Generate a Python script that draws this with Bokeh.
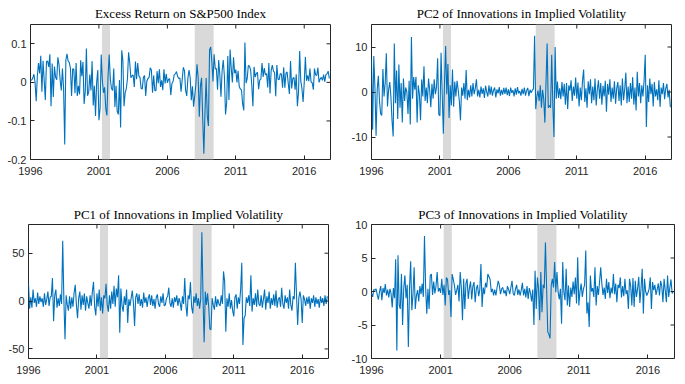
import math
from bokeh.plotting import figure
from bokeh.layouts import column, row
from bokeh.models import (Range1d, FixedTicker, BoxAnnotation,
                          PrintfTickFormatter, ColumnDataSource)
from bokeh.embed import file_html
from bokeh.resources import INLINE

# ---------------- data ----------------
titles = ["Excess Return on S&P500 Index",
          "PC2 of Innovations in Implied Volatility",
          "PC1 of Innovations in Implied Volatility",
          "PC3 of Innovations in Implied Volatility"]
year_ticks = [1996, 2001, 2006, 2011, 2016]
x_start, x_end = 1996, 2017.92
rec_start = [2001.22, 2008.0]
rec_end = [2001.81, 2009.38]

# monthly log excess return, Feb 1996 .. Dec 2017 (one row per calendar year)
excess_return = [
    0.005, 0.006, 0.011, 0.021, 0.000, -0.049, 0.016, 0.050, 0.023, 0.069, -0.024,
    0.056, 0.004, -0.046, 0.054, 0.055, 0.040, 0.073, -0.062, 0.049, -0.038, 0.041, 0.013,
    0.007, 0.065, 0.046, 0.006, -0.021, 0.036, -0.015, -0.161, 0.058, 0.074, 0.055, 0.052,
    0.037, -0.035, 0.035, 0.034, -0.028, 0.050, -0.035, -0.009, -0.031, 0.057, 0.016, 0.053,
    -0.056, -0.024, 0.088, -0.035, -0.026, 0.020, -0.021, 0.055, -0.060, -0.009, -0.087, 0.000,
    0.032, -0.098, -0.068, 0.072, 0.004, -0.027, -0.013, -0.068, -0.086, 0.017, 0.072, 0.008,
    -0.016, -0.021, 0.036, -0.064, -0.009, -0.075, -0.083, 0.006, -0.117, 0.083, 0.056, -0.062,
    -0.027, -0.016, 0.009, 0.078, 0.051, 0.012, 0.017, 0.019, -0.012, 0.054, 0.008, 0.050,
    0.017, 0.013, -0.016, -0.017, 0.013, 0.018, -0.035, 0.003, 0.010, 0.013, 0.038, 0.032,
    -0.027, 0.018, -0.021, -0.022, 0.029, -0.002, 0.034, -0.012, 0.005, -0.020, 0.034, -0.003,
    0.022, -0.001, 0.008, 0.009, -0.033, -0.003, 0.002, 0.020, 0.022, 0.028, 0.015, 0.010,
    0.011, -0.024, 0.007, 0.039, 0.030, -0.021, -0.035, 0.011, 0.032, 0.012, -0.046, -0.010,
    -0.063, -0.035, -0.005, 0.047, 0.012, -0.089, -0.009, 0.012, -0.094, -0.185, -0.075, 0.011,
    -0.088, -0.113, 0.084, 0.092, 0.054, 0.002, 0.073, 0.035, 0.036, -0.019, 0.058, 0.019,
    -0.037, 0.030, 0.058, 0.016, -0.083, -0.053, 0.068, -0.046, 0.085, 0.037, 0.000, 0.065,
    0.024, 0.033, 0.000, 0.030, -0.011, -0.017, -0.020, -0.056, -0.073, 0.103, -0.002, 0.010,
    0.044, 0.042, 0.032, -0.006, -0.062, 0.040, 0.014, 0.023, 0.026, -0.018, 0.006, 0.009,
    0.050, 0.014, 0.037, 0.019, 0.023, -0.013, 0.050, -0.029, 0.030, 0.045, 0.030, 0.025,
    -0.036, 0.045, 0.008, 0.007, 0.023, 0.021, -0.014, 0.039, -0.014, 0.024, 0.027, -0.003,
    -0.030, 0.055, -0.016, 0.010, 0.013, -0.019, 0.021, -0.062, -0.025, 0.081, 0.003, -0.016,
    -0.051, -0.001, 0.066, 0.004, 0.018, 0.003, 0.036, 0.001, -0.001, -0.019, 0.036, 0.019,
    0.018, 0.038, 0.000, 0.009, 0.013, 0.005, 0.020, 0.002, 0.020, 0.022, 0.029, 0.010,
]

pc2 = [
    7.1, -8.4, 8.0, 1.0, -9.7, 0.5, 3.6, -2.0, -4.8, -5.2, 5.1, -1.0,
    2.0, 8.6, -3.2, 0.5, 2.2, -1.0, -6.4, -9.9, 10.8, -2.5, 4.8, -6.0,
    6.1, -3.5, 2.0, -6.8, 3.0, -2.0, 1.0, 0.0, -4.9, 2.5, -7.2, 12.2,
    -1.5, 3.3, 0.5, 3.4, -6.8, 1.5, -0.5, -6.3, 2.8, -1.0, 5.7, -2.0,
    1.0, -2.5, 3.0, 0.5, -3.4, 1.8, -1.5, 2.8, -0.5, 1.0, 7.5, -5.0,
    -5.3, 8.7, -0.5, -9.3, 2.0, 10.2, -0.5, 6.2, -5.8, 1.5, -3.0, 5.0,
    -3.3, 2.3, -1.0, 2.5, 0.5, -2.0, -6.3, 1.0, -0.8, 2.0, -1.5, 4.9,
    -1.8, 0.5, -1.2, 1.5, -1.0, 2.0, -0.5, 0.8, 2.8, -1.0, 0.5, -1.2,
    1.2, -0.4, 0.8, -1.3, 1.4, 0.0, -1.0, 1.5, -0.6, 1.2, -0.8, 0.4,
    1.0, -1.2, 0.6, -0.3, 1.1, -0.8, 0.5, -0.6, 0.9, -0.4, 1.0, -0.7,
    0.6, -0.9, 1.0, -0.2, 0.4, -1.0, 0.8, -0.6, 1.1, -0.3, 0.2, -0.8,
    0.7, -0.5, 1.0, -0.8, 0.3, 0.9, -0.9, 0.5, -0.2, 0.4, 0.7, 12.5,
    -3.8, -1.0, 0.3, -2.0, 1.5, -3.5, 0.5, -1.5, -6.8, 2.0, 10.8, -3.5,
    -3.0, -3.5, 8.3, -3.0, -10.0, 10.0, -1.5, 2.3, -1.3, 0.8, -1.6, 2.2,
    -1.0, 1.8, -2.8, 2.0, -3.8, 1.5, 0.3, 2.6, -2.0, 1.2, -0.8, 3.2,
    -1.5, 2.1, -3.2, 1.0, -1.8, 2.5, 5.0, -2.2, 0.8, -3.5, 2.4, -0.5,
    2.8, -2.5, 1.2, -1.8, 3.0, -3.0, 0.6, 2.6, -1.5, 2.0, -2.8, 1.4,
    -1.0, 2.5, -4.4, 1.8, -0.6, 2.8, -2.2, 1.0, -1.5, 2.4, -2.6, 0.8,
    2.2, -2.0, 1.5, -3.0, 3.0, -1.8, 0.6, 4.3, -2.5, 1.2, -2.2, 2.0,
    -1.5, 3.3, -2.8, 1.0, -4.1, 4.5, -1.0, 2.0, -2.5, 1.5, -1.0, 2.5,
    8.3, -7.8, 1.5, -2.2, 3.0, -0.5, 1.8, -3.2, 2.2, -1.0, 0.6, -1.8,
    2.6, -3.3, 1.0, -0.5, 2.0, -1.6, 0.8, 1.8, -1.2, 0.5, -3.4,
]

pc1 = [
    18, -8, 4, -7, 12, -2, 3, -6, 9, -3, 5, -1,
    3, -6, 8, -4, 2, 10, -5, 4, 5, 24, -21, 6,
    12, -7, 3, -5, 7, -3, 63, 2, -40, 6, -4, -10,
    5, -8, 4, -6, 9, 17, -4, -18, 3, 10, -9, 6,
    -4, 8, -10, 5, -2, -8, 6, -5, 10, 20, -6, -15,
    8, -6, 12, -10, 4, -13, 6, 3, 18, -4, -11, 6,
    -8, 10, -3, 16, -6, 13, 4, 27, -33, 13, -5, -11,
    5, -4, 12, -23, 2, -5, 3, 11, -2, -26, 4, 8,
    -3, 7, -5, 2, -7, 9, -2, 4, -6, 3, 7, -4,
    6, -5, 2, -8, 4, 7, -3, -6, 5, -2, 8, -5,
    -4, 3, 5, 14, -2, -6, 3, -7, 4, -1, 6, -5,
    3, -2, -10, 5, -3, 24, -4, -16, 6, 2, 20, -6,
    -13, 5, -2, 8, -5, 3, -8, 2, 72, 4, -43, 10,
    -4, 8, -6, -29, -30, 3, -4, -9, 5, -6, 2, -3,
    -5, 6, -3, 31, 20, -32, 3, -6, 8, -8, 1, -10,
    -16, 4, 7, -8, 4, -3, 12, 40, -46, -18, -15, 4,
    -2, 6, -5, 27, -11, 3, -4, 8, -6, 12, -3, -5,
    6, -7, 2, 12, -9, 5, -2, 10, -8, 3, -4, 7,
    -5, 11, -7, 2, 4, -6, 14, -3, -8, 6, -2, 4,
    -8, 12, -4, -10, 5, 2, 40, 6, -25, 3, 10, 2,
    -23, 6, 2, -5, 4, -3, 5, -8, 3, -2, 6, -6,
    4, -3, 2, -7, 5, -2, 3, -5, 6, -3, 5,
]

pc3 = [
    -0.3, -0.8, 0.3, 0.2, 0.4, -0.5, -1.2, 0.0, 0.8, -1.3, 0.5, -0.2,
    1.1, -0.6, 0.3, -0.9, 0.4, -0.3, -2.4, 0.5, -1.0, 4.8, -8.8, 5.4,
    -2.0, -2.6, 2.6, -5.0, 0.5, 2.4, -1.0, 1.0, -8.3, 0.5, 4.5, -2.8,
    -0.5, 3.6, -2.6, -0.6, 0.2, -1.5, 0.8, -0.4, 1.2, -0.8, 8.3, 0.5,
    -3.3, 0.4, -2.6, 2.4, 2.6, -0.5, 1.5, -0.3, 0.8, 2.9, 0.0, 0.5,
    -0.2, 1.9, -0.5, 1.0, -2.1, 2.1, 1.8, -0.5, 0.2, -3.8, 2.6, 1.8,
    0.9, -0.5, 0.2, 1.0, -1.5, 2.9, 0.5, -4.3, 1.9, -2.6, 1.2, 1.9,
    -1.1, 0.5, 1.5, -1.2, 0.8, 1.4, -1.6, 0.4, 1.0, -0.7, 0.2, 4.1,
    -2.3, 0.6, -0.4, 1.3, 0.6, 2.6, 2.2, 1.8, -0.1, 0.4, -0.6, 0.3,
    -0.6, 0.6, 1.6, 0.9, -0.4, 0.4, 0.6, -0.3, 0.2, -0.7, 0.8, 0.3,
    -0.4, 0.6, 1.6, -0.3, -0.6, 0.4, 1.0, -0.5, 0.3, -0.6, 0.2, 1.3,
    -0.6, 0.4, -0.9, 0.8, -1.1, 0.5, -0.2, -1.5, 0.3, -5.0, 3.1, -2.6,
    2.1, 0.5, -4.3, 2.9, -3.1, 1.0, 0.5, 7.3, 0.6, -6.0, -6.4, -7.0,
    0.9, 1.9, 0.6, 4.4, -0.1, 2.9, -0.1, -1.2, 0.4, -4.8, 4.4, -0.1,
    -1.3, 3.4, -2.1, 0.9, -2.3, 0.6, -0.8, 1.5, -0.4, 2.1, -1.8, 5.1,
    -2.1, 0.0, 1.2, -0.8, 0.4, 1.0, 6.1, -3.3, -1.6, -5.3, 2.4, 0.0,
    0.5, -0.8, 3.6, -2.1, 0.8, -0.5, 1.5, 3.6, 1.1, -0.5, 0.6, -1.1,
    1.9, -0.2, 1.4, -1.0, 0.6, -0.3, 2.6, -0.4, 1.2, -1.6, 1.0, 0.5,
    2.1, -0.9, 0.8, -0.7, 1.9, -0.4, 0.2, -2.6, 1.9, 0.8, -2.1, 2.0,
    -2.3, 1.6, -0.8, 0.4, 2.2, -1.7, 0.5, 3.4, -3.3, 1.9, 0.0, -0.6,
    -0.2, 0.4, 2.1, -2.6, 1.4, 0.2, 1.0, -0.5, 0.3, 1.2, -0.6, 1.6,
    0.8, -1.6, 1.9, 0.2, -1.6, 2.4, -0.8, 0.6, 1.8, -0.3, 0.0,
]

dates = [1996 + k / 12 for k in range(len(excess_return))]

LINE = "#0072BD"
AX = "#262626"


def make_panel(title, values, ylim, yticks, yfmt, width, height,
               mbl, mbr, mbt, mbb, title_standoff, xlab_standoff):
    p = figure(width=width, height=height,
               x_range=Range1d(x_start, x_end), y_range=Range1d(*ylim),
               output_backend="svg", toolbar_location=None,
               min_border_left=mbl, min_border_right=mbr,
               min_border_top=mbt, min_border_bottom=mbb)
    p.xgrid.visible = False
    p.ygrid.visible = False
    p.background_fill_color = "white"
    p.border_fill_color = "white"
    p.outline_line_color = AX
    p.outline_line_width = 1
    p.outline_line_alpha = 1

    p.title.text = title
    p.title.align = "center"
    p.title.text_font = "Liberation Serif"
    p.title.text_font_size = "13px"
    p.title.text_font_style = "normal"
    p.title.text_color = "black"
    p.title.standoff = title_standoff

    for s, e in zip(rec_start, rec_end):
        p.add_layout(BoxAnnotation(left=s, right=e, fill_color="#d9d9d9",
                                   fill_alpha=1.0, line_alpha=0,
                                   level="underlay"))

    src = ColumnDataSource(dict(x=dates, y=values))
    p.line("x", "y", source=src, line_color=LINE, line_width=1.1)

    # inward ticks on the top and right edges of the box (clipped to the frame)
    top_src = ColumnDataSource(dict(x=year_ticks, y=[ylim[1]] * len(year_ticks)))
    p.scatter("x", "y", source=top_src, marker="dash", size=8,
              angle=math.pi / 2, line_color=AX, line_width=1)
    right_src = ColumnDataSource(dict(x=[x_end] * len(yticks), y=yticks))
    p.scatter("x", "y", source=right_src, marker="dash", size=8,
              line_color=AX, line_width=1)

    xa = p.xaxis[0]
    xa.ticker = FixedTicker(ticks=year_ticks)
    xa.formatter = PrintfTickFormatter(format="%d")
    xa.major_label_standoff = xlab_standoff
    ya = p.yaxis[0]
    ya.ticker = FixedTicker(ticks=yticks)
    ya.formatter = PrintfTickFormatter(format=yfmt)
    ya.major_label_standoff = 4
    for ax in (xa, ya):
        ax.axis_line_color = None
        ax.major_tick_in = 4
        ax.major_tick_out = 0
        ax.minor_tick_in = 0
        ax.minor_tick_out = 0
        ax.major_tick_line_color = AX
        ax.major_label_text_font = "Liberation Sans"
        ax.major_label_text_font_size = "11px"
        ax.major_label_text_color = AX
    return p


p1 = make_panel(titles[0], excess_return, (-0.2, 0.15), [-0.2, -0.1, 0, 0.1], "%g",
                348, 187, 30, 18, 24, 28, 7, 7)
p2 = make_panel(titles[1], pc2, (-15, 15), [-10, 0, 10], "%d",
                328, 187, 23, 5, 24, 28, 7, 7)
p3 = make_panel(titles[2], pc1, (-60, 80), [-50, 0, 50], "%d",
                348, 191, 28, 20, 37, 20, 6, 7)
p4 = make_panel(titles[3], pc3, (-10, 10), [-10, -5, 0, 5, 10], "%d",
                328, 191, 23, 2, 37, 20, 6, 7)

layout = column(row(p1, p2), row(p3, p4))
open("out.html", "w").write(file_html(layout, INLINE))
